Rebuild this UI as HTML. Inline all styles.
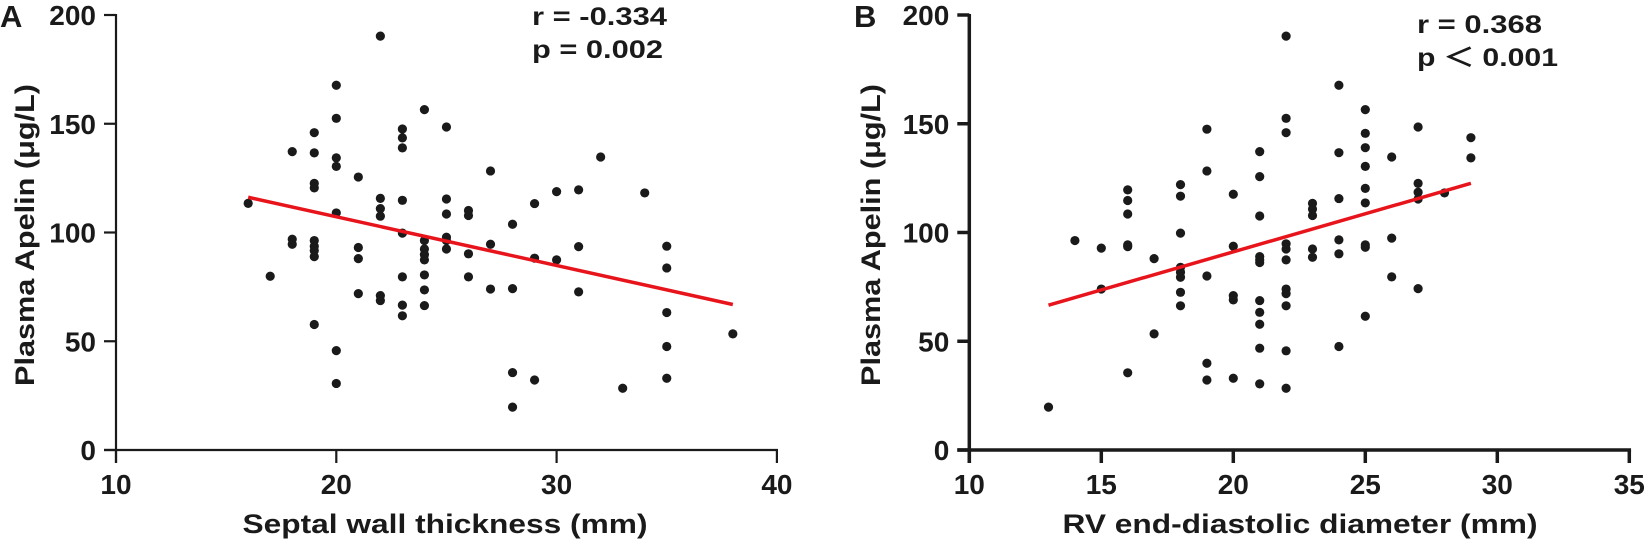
<!DOCTYPE html>
<html><head><meta charset="utf-8"><style>
html,body{margin:0;padding:0;background:#fff;}
svg{display:block;font-family:"Liberation Sans",Arial,sans-serif;font-weight:bold;fill:#1a1a1a;}
</style></head><body>
<svg id="chart" width="1650" height="546" viewBox="0 0 1650 546"></svg>
<script>
// Panel A data
const aX = [16,17,18,18,18,19,19,19,19,19,19,19,19,19,20,20,20,20,20,20,20,21,21,21,21,22,22,22,22,22,22,23,23,23,23,23,23,23,23,24,24,24,24,24,24,24,24,25,25,25,25,25,25,26,26,26,26,27,27,27,28,28,28,28,29,29,29,30,30,31,31,31,32,33,34,35,35,35,35,35,38];
const aY = [113.4,79.9,137.2,96.9,94.6,145.9,136.6,122.6,120.5,96.3,93.7,91.7,88.9,57.7,167.7,152.5,134.3,130.4,109,45.7,30.6,125.5,93.1,88,71.9,190.3,115.7,111,107.5,71,68.7,147.6,143.5,138.9,114.8,99.7,79.6,66.6,61.7,156.5,96.3,92.4,89.8,87.4,80.5,73.6,66.4,148.5,115.4,108.5,97.8,96.3,92.4,110.1,107.8,90.2,79.6,128.3,94.6,74,103.8,74.2,35.6,19.7,113.3,88.2,32.2,118.8,87.4,119.6,93.5,72.7,134.7,28.4,118.2,93.7,83.7,63.2,47.6,33,53.4];
const aFitX = [16,38];
const aFitY = [116.2,66.9];
const aXTicks = [10,20,30,40];
// Panel B data
const bX = [13,14,15,15,16,16,16,16,16,16,17,17,18,18,18,18,18,18,18,18,19,19,19,19,19,20,20,20,20,20,21,21,21,21,21,21,21,21,21,21,21,22,22,22,22,22,22,22,22,22,22,22,23,23,23,23,23,24,24,24,24,24,24,25,25,25,25,25,25,25,25,25,26,26,26,27,27,27,27,27,28,29,29];
const bY = [19.7,96.3,92.8,74,119.6,114.7,108.5,94.3,93.5,35.5,88,53.4,122,116.7,99.7,84,81.7,79.4,72.5,66.3,147.5,128.3,80,39.9,32.2,117.6,93.7,71,69,33,137.2,125.7,107.6,88.9,87.4,86.2,68.7,63.3,57.8,46.8,30.4,190.3,152.5,145.9,94.8,92.4,87.4,74,71.9,66.3,45.6,28.4,113.4,110.8,107.8,92.4,88.6,167.7,136.7,115.6,96.6,90.2,47.6,156.5,145.6,139,130.4,120.3,113.6,94.3,93.2,61.5,134.7,97.4,79.6,148.5,122.6,118.5,115.4,74.2,118.2,143.6,134.3];
const bFitX = [13,29];
const bFitY = [66.6,122.6];
const bXTicks = [10,15,20,25,30,35];
const yTicks = [0,50,100,150,200];

const NS = "http://www.w3.org/2000/svg";
const svg = document.getElementById('chart');
function mk(tag, attrs, parent){
  const e = document.createElementNS(NS, tag);
  for (const k in attrs) e.setAttribute(k, attrs[k]);
  (parent||svg).appendChild(e);
  return e;
}
function yScale(v){ return 450 - v*2.175; }

function panel(cfg){
  const g = mk('g', {});
  
  
  const xs = v => cfg.x0 + (v - cfg.xmin) * cfg.ppu;
  const xEnd = xs(cfg.xmax);
  const sw = cfg.sw;
  const ya = mk('line', {x1:cfg.x0, y1:yScale(200)-1, x2:cfg.x0, y2:463, stroke:'#1a1a1a', 'stroke-width':sw}, g);
  
  
  const xa = mk('line', {x1:cfg.x0-12, y1:450, x2:xEnd+sw/2, y2:450, stroke:'#1a1a1a', 'stroke-width':sw}, g);
  
  
  yTicks.forEach(t => {
    const y = yScale(t);
    const tk = mk('line', {x1:cfg.x0-12, y1:y, x2:cfg.x0, y2:y, stroke:'#1a1a1a', 'stroke-width':sw}, g);
    
    
    const lb = mk('text', {x:cfg.x0-20, y:y+10, 'text-anchor':'end', 'font-size':28}, g);
    lb.textContent = t;
    
    
  });
  cfg.xticks.forEach(t => {
    const x = xs(t);
    const tk = mk('line', {x1:x, y1:450, x2:x, y2:463, stroke:'#1a1a1a', 'stroke-width':sw}, g);
    
    
    const lb = mk('text', {x:x, y:494, 'text-anchor':'middle', 'font-size':28}, g);
    lb.textContent = t;
    
    
  });
  cfg.px.forEach((v,i) => {
    const c = mk('circle', {cx:xs(v), cy:yScale(cfg.py[i]), r:4.6, fill:'#1a1a1a'}, g);
    
    
  });
  const fl = mk('line', {x1:xs(cfg.fx[0]), y1:yScale(cfg.fy[0]), x2:xs(cfg.fx[1]), y2:yScale(cfg.fy[1]), stroke:'#e8141c', 'stroke-width':3.5}, g);
  
  
  const xt = mk('text', {x:cfg.xtX, y:533, 'text-anchor':'middle', 'font-size':27, textLength:cfg.xtLen, lengthAdjust:'spacingAndGlyphs'}, g);
  xt.textContent = cfg.xtitle;
  
  
  const yt = mk('text', {x:0, y:0, 'text-anchor':'middle', 'font-size':27, textLength:302, lengthAdjust:'spacingAndGlyphs', transform:'translate('+cfg.ytX+',235) rotate(-90)'}, g);
  yt.textContent = 'Plasma Apelin (\u03bcg/L)';
  
  
  const pl = mk('text', {x:cfg.lblX, y:27, 'font-size':31}, g);
  pl.textContent = cfg.letter;
  
  
  const r = mk('text', {x:cfg.stX, y:cfg.rY, 'font-size':25, textLength:cfg.rLen, lengthAdjust:'spacingAndGlyphs'}, g);
  r.textContent = cfg.rText;
  
  
  const p = mk('text', {x:cfg.stX, y:cfg.rY+33, 'font-size':25, textLength:cfg.pLen, lengthAdjust:'spacingAndGlyphs'}, g);
  p.textContent = cfg.pText;
  
  
}

panel({name:'panel-a', x0:116, xmin:10, xmax:40, ppu:22.03, sw:2.2, xticks:aXTicks, px:aX, py:aY, fx:aFitX, fy:aFitY,
  xtitle:'Septal wall thickness (mm)', xtX:445, xtLen:405, ytX:34, lblX:0, letter:'A',
  stX:532, rY:25, rText:'r = -0.334', pText:'p = 0.002', rLen:135, pLen:131});
panel({name:'panel-b', x0:969.3, xmin:10, xmax:35, ppu:26.4, sw:3.5, xticks:bXTicks, px:bX, py:bY, fx:bFitX, fy:bFitY,
  xtitle:'RV end-diastolic diameter (mm)', xtX:1300, xtLen:475, ytX:880, lblX:854, letter:'B',
  stX:1417, rY:33, rText:'r = 0.368', pText:'p \uFF1C 0.001', rLen:125, pLen:141});
</script>
</body></html>
